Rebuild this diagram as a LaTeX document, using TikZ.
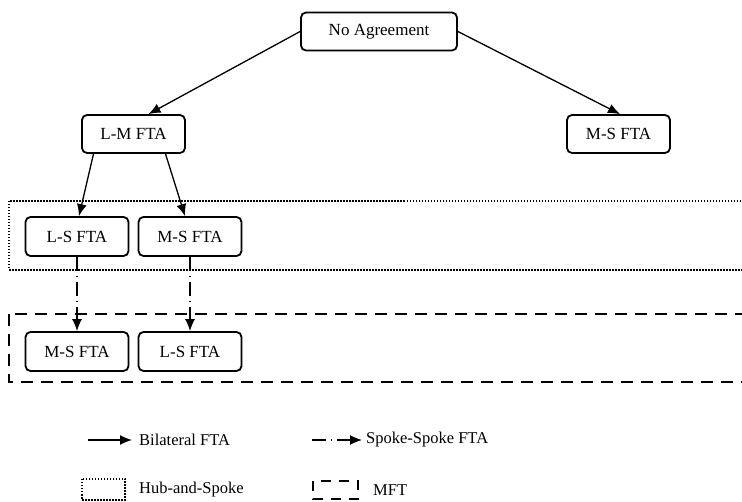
\documentclass[tikz,border=0pt]{standalone}
\usepackage{fontspec}
\setmainfont{Liberation Serif}
\usetikzlibrary{arrows.meta}
\begin{document}
\begin{tikzpicture}[x=1pt,y=-1pt,
  fta/.style={draw,rounded corners=5pt,line width=1.8pt,minimum height=38pt,
    minimum width=103pt,inner sep=0pt,font=\fontsize{17}{19}\selectfont},
  lbl/.style={anchor=west,inner sep=0pt,font=\fontsize{16.5}{18}\selectfont},
  bilateral/.style={line width=1.3pt,-{Latex[length=12pt,width=10pt]}},
  spokespoke/.style={line width=1.3pt,dash pattern=on 14pt off 5pt on 1.2pt off 5pt,
    -{Latex[length=12pt,width=10pt]}},
  hubspoke/.style={line width=1.4pt,dash pattern=on 1.5pt off 1.5pt},
  mft/.style={line width=2.6pt,dash pattern=on 12pt off 8pt},
]
\useasboundingbox (0,0) rectangle (742,502);
\clip (0,0) rectangle (742,502);

% group frames (they run on past the right side)
\draw[hubspoke] (9,201) rectangle (780,270);
\draw[mft] (9,314) rectangle (790,382);

% agreement nodes
\node[fta,minimum width=156pt] (na) at (379,31.5) {No Agreement};
\node[fta] (lm) at (133.5,134) {L-M FTA};
\node[fta] (msR) at (618.5,134) {M-S FTA};
\node[fta,minimum height=39pt] (lsA) at (77,236.5) {L-S FTA};
\node[fta,minimum height=39pt] (msA) at (190,236.5) {M-S FTA};
\node[fta,minimum height=39pt] (msB) at (77,351.5) {M-S FTA};
\node[fta,minimum height=39pt] (lsB) at (190,351.5) {L-S FTA};

% bilateral agreements
\draw[bilateral] (na.west) -- ([xshift=15pt]lm.north);
\draw[bilateral] (na.east) -- ([xshift=1.5pt]msR.north);
\draw[bilateral] ([xshift=-40pt]lm.south) -- ([xshift=2pt]lsA.north);
\draw[bilateral] ([xshift=32pt]lm.south) -- ([xshift=-5pt]msA.north);

% spoke-spoke agreements
\draw[spokespoke] (lsA.south) -- (msB.north);
\draw[spokespoke] (msA.south) -- (lsB.north);

% legend
\coordinate (k1a) at (88,440);
\coordinate (k1b) at (132,440);
\draw[bilateral] (k1a) -- (k1b);
\node[lbl] (t1) at (139,440) {Bilateral FTA};

\coordinate (k2a) at (312,440);
\coordinate (k2b) at (362,440);
\draw[spokespoke] (k2a) -- (k2b);
\node[lbl] (t2) at (366,440) {Spoke-Spoke FTA};

\draw[hubspoke,line width=1.2pt] (82,479) rectangle (125,500);
\node[lbl] (t3) at (139,490) {Hub-and-Spoke};

\draw[mft,line width=2.4pt,dash pattern=on 10pt off 8pt] (313,481) rectangle (358,499);
\node[lbl] (t4) at (373,490) {MFT};
\end{tikzpicture}
\end{document}
